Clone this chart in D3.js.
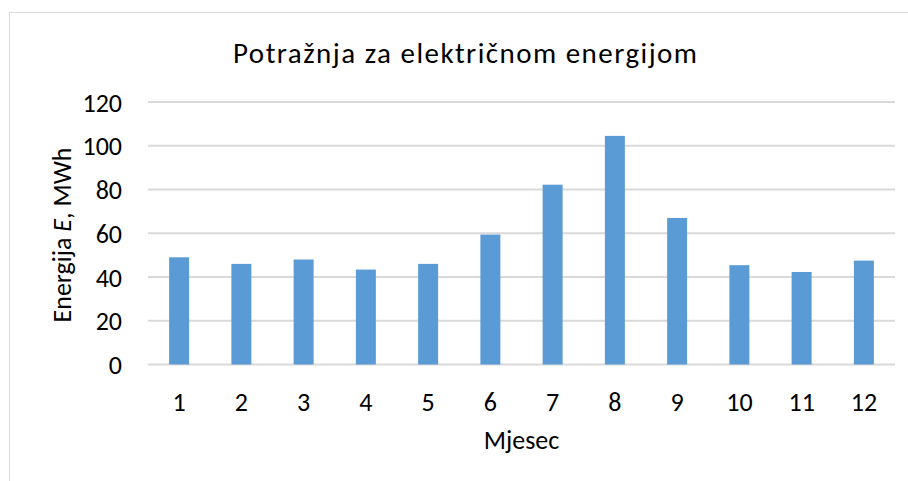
<!DOCTYPE html>
<html>
<head>
<meta charset="utf-8">
<script src="https://cdn.jsdelivr.net/npm/d3@7"></script>
<style>
  body { margin: 0; background: #fff; }
  svg { display: block; }
  text { font-family: Carlito, Calibri, Lato, sans-serif; fill: #000; }
</style>
</head>
<body>
<div id="chart"></div>
<script>
// data
var months = ["1", "2", "3", "4", "5", "6", "7", "8", "9", "10", "11", "12"];
var energy = [49.0, 46.0, 48.0, 43.4, 46.0, 59.4, 82.2, 104.5, 67.0, 45.4, 42.3, 47.5];
var yTicks = [0, 20, 40, 60, 80, 100, 120];

var width = 908,
    height = 481;

// plot area
var plotLeft = 148, plotRight = 895, plotTop = 102, plotBottom = 364.5;

var svg = d3.select("#chart").append("svg")
    .attr("width", width)
    .attr("height", height);

// chart frame
svg.append("rect")
    .attr("x", 9.5).attr("y", 12.5)
    .attr("width", 912).attr("height", 480)
    .attr("fill", "#fff")
    .attr("stroke", "#d9d9d9")
    .attr("stroke-width", 1);

var x = d3.scaleBand()
    .domain(months)
    .range([plotLeft, plotRight])
    .paddingInner(0.679)
    .paddingOuter(0.679 / 2);

var y = d3.scaleLinear()
    .domain([0, 120])
    .range([plotBottom, plotTop]);

// gridlines
svg.append("g")
  .selectAll("line")
  .data(yTicks)
  .enter().append("line")
    .attr("x1", plotLeft).attr("x2", plotRight)
    .attr("y1", function(d) { return y(d); })
    .attr("y2", function(d) { return y(d); })
    .attr("stroke", "#d9d9d9")
    .attr("stroke-width", 2);

// bars
svg.append("g")
  .selectAll("rect")
  .data(energy)
  .enter().append("rect")
    .attr("x", function(d, i) { return x(months[i]); })
    .attr("y", function(d) { return y(d); })
    .attr("width", x.bandwidth())
    .attr("height", function(d) { return y(0) - y(d); })
    .attr("fill", "#5b9bd5");

// y axis labels
var yAxis = d3.axisLeft(y).tickValues(yTicks).tickSize(0).tickPadding(0);
var gy = svg.append("g")
    .attr("transform", "translate(122,0)")
    .call(yAxis);
gy.select(".domain").remove();
gy.selectAll("text")
    .style("font-size", "26px")
    .attr("dy", "0.35em");

// x axis labels
var xAxis = d3.axisBottom(x).tickSize(0).tickPadding(0);
var gx = svg.append("g")
    .attr("transform", "translate(0,411)")
    .call(xAxis);
gx.select(".domain").remove();
gx.selectAll("text")
    .style("font-size", "26px")
    .attr("dy", "0");

// title
svg.append("text")
    .attr("x", 465)
    .attr("y", 63)
    .attr("text-anchor", "middle")
    .attr("textLength", 464)
    .attr("lengthAdjust", "spacing")
    .style("font-size", "29px")
    .text("Potražnja za električnom energijom");

// axis titles
svg.append("text")
    .attr("x", 521.5)
    .attr("y", 449)
    .attr("text-anchor", "middle")
    .style("font-size", "26px")
    .text("Mjesec");

var yt = svg.append("text")
    .attr("transform", "translate(71,235) rotate(-90)")
    .attr("text-anchor", "middle")
    .style("font-size", "26px");
yt.append("tspan").text("Energija ");
yt.append("tspan").style("font-style", "italic").text("E");
yt.append("tspan").text(", MWh");
</script>
</body>
</html>
